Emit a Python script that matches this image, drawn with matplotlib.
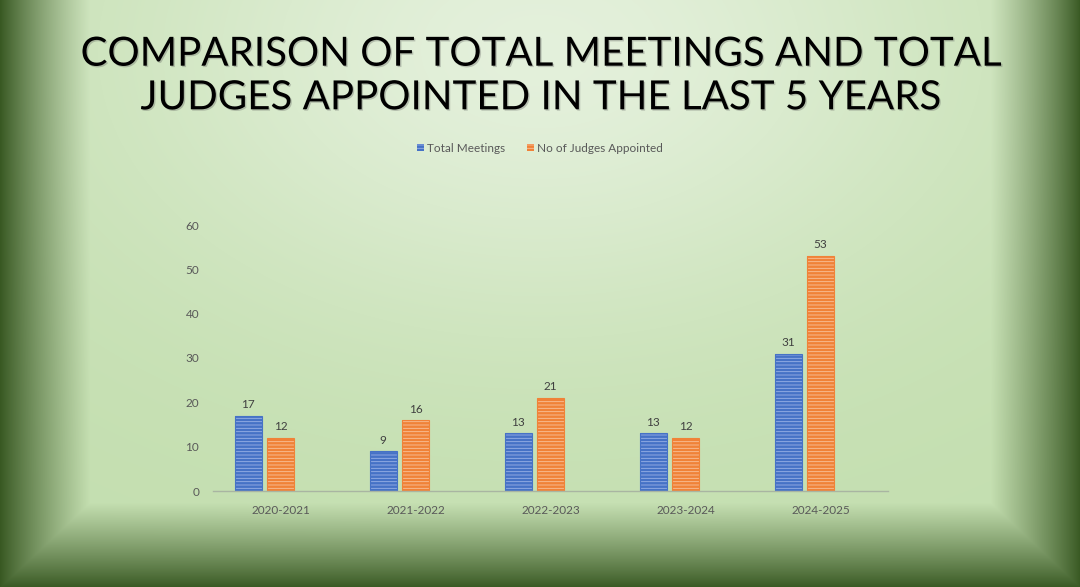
import numpy as np
import matplotlib
matplotlib.use("Agg")
import matplotlib.pyplot as plt
from matplotlib.patches import Patch
import matplotlib.patheffects as pe

# ---- data ----
categories = ["2020-2021", "2021-2022", "2022-2023", "2023-2024", "2024-2025"]
total_meetings = [17, 9, 13, 13, 31]
judges_appointed = [12, 16, 21, 12, 53]
series_names = ["Total Meetings", "No of Judges Appointed"]
yticks = [0, 10, 20, 30, 40, 50, 60]
title = "COMPARISON OF TOTAL MEETINGS AND TOTAL\nJUDGES APPOINTED IN THE LAST 5 YEARS"

W, H = 1080, 587
plt.rcParams['font.family'] = ['Lato', 'DejaVu Sans']
plt.rcParams['hatch.linewidth'] = 0.6

fig = plt.figure(figsize=(W / 100, H / 100), dpi=100)

# ---- background: bevelled green frame with light glow ----
yy, xx = np.mgrid[0:H, 0:W].astype(float)
bev = 90.0
t = np.minimum.reduce([xx / bev, (W - xx) / bev, (H - yy) / 85.0])
t = np.clip(t, 0, 1)
t = t ** 0.9
dark = np.array([56, 88, 34]) / 255.0
light = np.array([196, 223, 176]) / 255.0
bg = dark[None, None, :] * (1 - t[..., None]) + light[None, None, :] * t[..., None]
glow = np.exp(-((xx - 540) / 430.0) ** 2 - ((yy - 50) / 280.0) ** 2) * 0.72
glow *= t
white = np.array([240, 247, 236]) / 255.0
bg = bg * (1 - glow[..., None]) + white[None, None, :] * glow[..., None]

bgax = fig.add_axes([0, 0, 1, 1], zorder=-10)
bgax.imshow(bg, aspect='auto', extent=[0, 1, 0, 1], interpolation='bilinear')
bgax.set_axis_off()

# ---- title ----
fig.text(0.5, 1 - 76 / H, title, ha='center', va='center', fontsize=29,
         color='black', linespacing=1.22,
         path_effects=[pe.SimplePatchShadow(offset=(1.0, -1.0), shadow_rgbFace='#555555', alpha=0.3),
                       pe.Normal()])

# ---- chart ----
ax = fig.add_axes([213 / W, (H - 491) / H, (888 - 213) / W, (491 - 225) / H])
ax.patch.set_alpha(0)

x = np.arange(len(categories))
bw = 0.2
step = 0.24
blue, blue_l = '#4672c6', '#9bb2e6'
orange, orange_l = '#f08238', '#f8c29c'

b1 = ax.bar(x - step, total_meetings, bw, color=blue, edgecolor=blue_l, hatch='-----', linewidth=0)
ax.bar(x - step, total_meetings, bw, facecolor='none', edgecolor=blue, linewidth=0.8)
b2 = ax.bar(x, judges_appointed, bw, color=orange, edgecolor=orange_l, hatch='-----', linewidth=0)
ax.bar(x, judges_appointed, bw, facecolor='none', edgecolor=orange, linewidth=0.8)

for bars in (b1, b2):
    for r in bars:
        ax.annotate(f"{int(r.get_height())}", (r.get_x() + r.get_width() / 2, r.get_height()),
                    xytext=(0, 4), textcoords='offset points', ha='center', va='bottom',
                    fontsize=8.5, color='#404040')

ax.set_xlim(-0.5, len(categories) - 0.5)
ax.set_ylim(0, 60)
ax.set_yticks(yticks)
ax.set_xticks(x)
ax.set_xticklabels(categories)
for s in ['top', 'right', 'left']:
    ax.spines[s].set_visible(False)
ax.spines['bottom'].set_color('#a9b5a2')
ax.spines['bottom'].set_linewidth(1.0)
ax.tick_params(axis='both', length=0, labelsize=8.5, labelcolor='#595959')
ax.tick_params(axis='x', pad=10)
ax.tick_params(axis='y', pad=10)

handles = [Patch(facecolor=blue, edgecolor=blue_l, hatch='-----', linewidth=0),
           Patch(facecolor=orange, edgecolor=orange_l, hatch='-----', linewidth=0)]
fig.legend(handles, series_names, loc='center', bbox_to_anchor=(0.5, 1 - 148 / H), ncol=2,
           frameon=False, fontsize=8.5, labelcolor='#595959', handlelength=0.6, handleheight=0.6,
           handletextpad=0.3, columnspacing=1.8)

fig.savefig('out.png', dpi=100)
